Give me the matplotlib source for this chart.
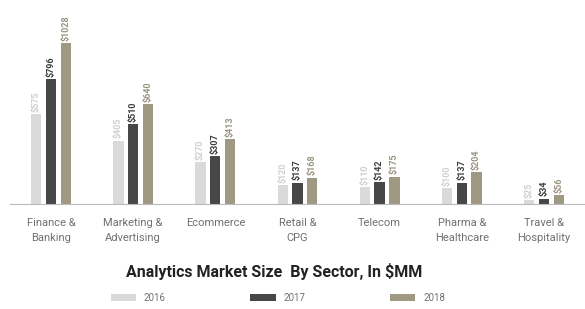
import matplotlib
matplotlib.use("Agg")
import matplotlib.pyplot as plt
import numpy as np

sectors = ["Finance &\nBanking", "Marketing &\nAdvertising", "Ecommerce", "Retail &\nCPG",
           "Telecom", "Pharma &\nHealthcare", "Travel &\nHospitality"]
years = ["2016", "2017", "2018"]
values_2016 = [575, 405, 270, 120, 110, 100, 25]
values_2017 = [796, 510, 307, 137, 142, 137, 34]
values_2018 = [1028, 640, 413, 168, 175, 204, 56]

colors = ["#dadada", "#474747", "#9f9984"]
label_colors = ["#d0d0d0", "#3c3c3c", "#9a9480"]

plt.rcParams["font.family"] = ["Roboto", "DejaVu Sans"]

fig = plt.figure(figsize=(5.85, 3.09), dpi=100)
ax = fig.add_axes([0.017, 0.34, 0.983, 0.63])

x = np.arange(len(sectors))
width = 0.125
step = 0.18
series = [values_2016, values_2017, values_2018]
handles = []
for i, (vals, col, lcol) in enumerate(zip(series, colors, label_colors)):
    pos = x + (i - 1) * step
    bars = ax.bar(pos, vals, width=width, color=col, label=years[i])
    handles.append(bars)
    for p, v in zip(pos, vals):
        ax.text(p, v + 14, f"${v}", rotation=90, ha="center", va="bottom",
                fontsize=6.5, color=lcol, fontweight="bold")

ax.set_xlim(-0.5, 6.5)
ax.set_ylim(0, 1245)
ax.set_yticks([])
ax.set_xticks(x)
ax.set_xticklabels(sectors, fontsize=8, color="#707070", linespacing=1.6)
ax.tick_params(axis="x", length=0, pad=10)
for side in ["top", "right", "left"]:
    ax.spines[side].set_visible(False)
ax.spines["bottom"].set_color("#bbbbbb")
ax.spines["bottom"].set_linewidth(0.8)

fig.text(0.468, 0.12, "Analytics Market Size  By Sector, In $MM", ha="center", va="center",
         fontsize=11.5, fontweight="bold", color="#222222")
fig.legend(handles, years, loc="center", bbox_to_anchor=(0.475, 0.035), ncol=3,
           frameon=False, fontsize=7, labelcolor="#707070", columnspacing=8.7,
           handlelength=2.6, handleheight=0.7)

fig.savefig("out.png", dpi=100)
